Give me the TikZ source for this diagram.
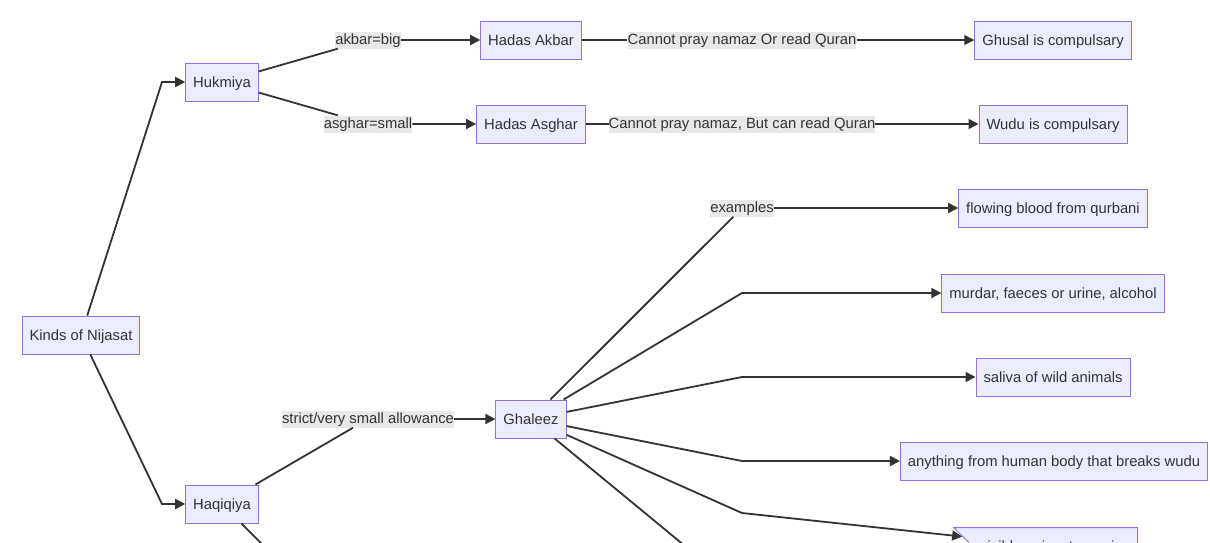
\documentclass[tikz,border=0pt]{standalone}
\usepackage{fontspec}
\setmainfont{Liberation Sans}
\usetikzlibrary{arrows.meta,shapes.symbols}
\definecolor{nodefill}{HTML}{ECECFF}
\definecolor{nodeline}{HTML}{9370DB}
\definecolor{inkline}{HTML}{333333}
\definecolor{lblfill}{HTML}{E8E8E8}
\tikzset{
  box/.style={draw=nodeline, fill=nodefill, line width=1pt, minimum height=38pt, inner xsep=7.5pt, text height=12pt, text depth=1.5pt, text=inkline},
  flagbox/.style={box, signal, signal from=west, signal to=nowhere, signal pointer angle=90, minimum width=176pt},
  lbl/.style={fill=lblfill, inner xsep=0pt, inner ysep=1pt, text height=12pt, text depth=3pt, text=inkline},
  link/.style={draw=inkline, line width=1.8pt},
}
\begin{document}
\begin{tikzpicture}[x=1pt, y=-1pt, >={Triangle[length=10pt,width=10pt]}, font=\fontsize{14.8}{17}\selectfont]
	\useasboundingbox (0,0) rectangle (1210,542);
	\clip (0,0) rectangle (1210,542);
	
	% Root and the two kinds
	\node[box] (Kinds) at (81,335) {Kinds of Nijasat};
	\node[box] (Hukmiya) at (222,82) {Hukmiya};
	\node[box] (Haqiqiya) at (222,504) {Haqiqiya};
	
	% Hukmiya branch
	\node[box] (HadasAkbar) at (531,40) {Hadas Akbar};
	\node[box] (HadasAsghar) at (531,124) {Hadas Asghar};
	\node[box] (Ghusal) at (1053,40) {Ghusal is compulsary};
	\node[box] (Wudu) at (1053,124) {Wudu is compulsary};
	
	% Haqiqiya branch
	\node[box] (Ghaleez) at (531,419) {Ghaleez};
	\node[box] (Blood) at (1053,208) {flowing blood from qurbani};
	\node[box] (Murdar) at (1053,293) {murdar, faeces or urine, alcohol};
	\node[box] (Saliva) at (1053,377) {saliva of wild animals};
	\node[box] (Body) at (1054,461) {anything from human body that breaks wudu};
	\node[flagbox, anchor=north east] (Visible) at (1138,527) {visible najasat remains};
	
	% Edge labels
	\node[lbl] (akbar) at (368,40) {akbar=big};
	\node[lbl] (asghar) at (368,124) {asghar=small};
	\node[lbl] (noquran) at (742,40) {Cannot pray namaz Or read Quran};
	\node[lbl] (quran) at (742,124) {Cannot pray namaz, But can read Quran};
	\node[lbl] (strict) at (368,419) {strict/very small allowance};
	\node[lbl] (examples) at (742,208) {examples};
	
	% Rows that run off the page
	\coordinate (HaqOut) at (368,650);
	\coordinate (GhalOut) at (742,593);
	
	% Connectors
	\draw[link,->] (Kinds) -- (162,82) -- (Hukmiya);
	\draw[link,->] (Kinds) -- (162,504) -- (Haqiqiya);
	\draw[link,->] (Hukmiya) -- (akbar) -- (HadasAkbar);
	\draw[link,->] (Hukmiya) -- (asghar) -- (HadasAsghar);
	\draw[link,->] (HadasAkbar) -- (noquran) -- (Ghusal);
	\draw[link,->] (HadasAsghar) -- (quran) -- (Wudu);
	\draw[link,->] (Haqiqiya) -- (strict) -- (Ghaleez);
	\draw[link] (Haqiqiya) -- (HaqOut);
	\draw[link,->] (Ghaleez) -- (examples) -- (Blood);
	\draw[link,->] (Ghaleez) -- (742,293) -- (Murdar);
	\draw[link,->] (Ghaleez) -- (742,377) -- (Saliva);
	\draw[link,->] (Ghaleez) -- (742,461) -- (Body);
	\draw[link,->] (Ghaleez) -- (742,513) -- (Visible);
	\draw[link] (Ghaleez) -- (GhalOut);
\end{tikzpicture}
\end{document}
